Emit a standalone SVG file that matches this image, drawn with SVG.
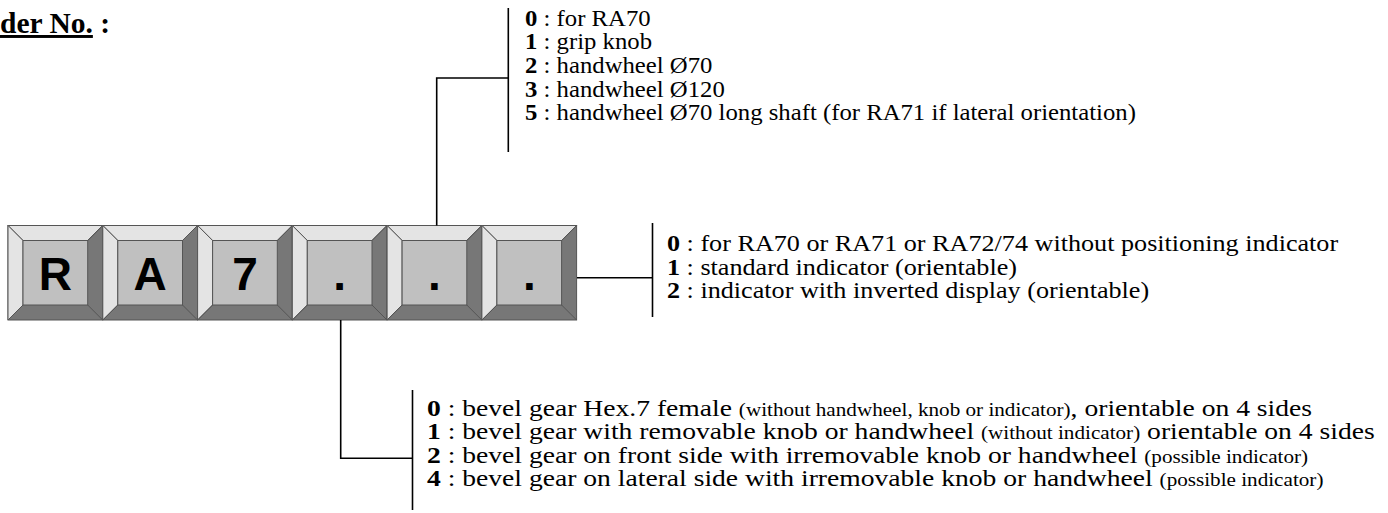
<svg xmlns="http://www.w3.org/2000/svg" xmlns:xlink="http://www.w3.org/1999/xlink" width="1388" height="513" viewBox="0 0 1388 513">
<style>
.t{font-family:"Liberation Serif","Times New Roman",serif;font-size:24px;fill:#000}
.b{font-weight:bold}
.s{font-size:18.4px}
.title{font-family:"Liberation Serif","Times New Roman",serif;font-size:29.5px;font-weight:bold;fill:#000}
.k{font-family:"Liberation Sans",Arial,sans-serif;font-size:46px;font-weight:bold;fill:#000;text-anchor:middle}
.ln{fill:none;stroke:#000;stroke-width:1.6}
.ks{stroke:#555;stroke-width:1;stroke-linejoin:miter}
</style>
<defs>
<g id="keyShape">
<rect class="ks" x="0" y="0" width="94.7" height="94.5" fill="#777777"/>
<polygon class="ks" points="0,0 94.7,0 79.7,15 15,15" fill="#e4e4e4"/>
<polygon class="ks" points="0,0 15,15 15,79.5 0,94.5" fill="#e4e4e4"/>
<rect class="ks" x="15" y="15" width="64.7" height="64.5" fill="#c0c0c0"/>
<line class="ks" x1="79.7" y1="79.5" x2="94.7" y2="94.5"/>
<line class="ks" x1="15" y1="79.5" x2="0" y2="94.5"/>
<line class="ks" x1="79.7" y1="15" x2="94.7" y2="0"/>
</g>
</defs>
<rect width="1388" height="513" fill="#fff"/>
<g id="title">
<text class="title" x="0" y="33"><tspan text-decoration="underline">der No.</tspan> :</text>
</g>
<g id="key-1" transform="translate(8,225.5)"><use xlink:href="#keyShape"/><text class="k" x="47.4" y="64">R</text></g>
<g id="key-2" transform="translate(102.8,225.5)"><use xlink:href="#keyShape"/><text class="k" x="47.4" y="64">A</text></g>
<g id="key-3" transform="translate(197.6,225.5)"><use xlink:href="#keyShape"/><text class="k" x="47.4" y="64">7</text></g>
<g id="key-4" transform="translate(292.3,225.5)"><use xlink:href="#keyShape"/><text class="k" x="47.4" y="64">.</text></g>
<g id="key-5" transform="translate(387.1,225.5)"><use xlink:href="#keyShape"/><text class="k" x="47.4" y="64">.</text></g>
<g id="key-6" transform="translate(481.9,225.5)"><use xlink:href="#keyShape"/><text class="k" x="47.4" y="64">.</text></g>
<g id="connectors">
<polyline class="ln" points="436.7,225.5 436.7,78 508.3,78"/>
<line class="ln" x1="508.3" y1="8" x2="508.3" y2="152"/>
<line class="ln" x1="577" y1="277.7" x2="652.5" y2="277.7"/>
<line class="ln" x1="652.5" y1="223" x2="652.5" y2="317"/>
<polyline class="ln" points="340.7,320 340.7,458.3 412.5,458.3"/>
<line class="ln" x1="412.5" y1="390" x2="412.5" y2="510"/>
</g>
<g id="options-handle">
<text class="t" transform="translate(525,25.5) scale(1.03,1)"><tspan class="b">0</tspan> : for RA70</text>
<text class="t" transform="translate(525,49.2) scale(1.03,1)"><tspan class="b">1</tspan> : grip knob</text>
<text class="t" transform="translate(525,72.9) scale(1.03,1)"><tspan class="b">2</tspan> : handwheel Ø70</text>
<text class="t" transform="translate(525,96.6) scale(1.03,1)"><tspan class="b">3</tspan> : handwheel Ø120</text>
<text class="t" transform="translate(525,120.3) scale(1.03,1)"><tspan class="b">5</tspan> : handwheel Ø70 long shaft (for RA71 if lateral orientation)</text>
</g>
<g id="options-indicator">
<text class="t" transform="translate(667,251) scale(1.09,1)"><tspan class="b">0</tspan> : for RA70 or RA71 or RA72/74 without positioning indicator</text>
<text class="t" transform="translate(667,274.5) scale(1.09,1)"><tspan class="b">1</tspan> : standard indicator (orientable)</text>
<text class="t" transform="translate(667,298) scale(1.09,1)"><tspan class="b">2</tspan> : indicator with inverted display (orientable)</text>
</g>
<g id="options-gear">
<text class="t" transform="translate(427,416) scale(1.15,1)"><tspan class="b">0</tspan> : bevel gear Hex.7 female <tspan class="s">(without handwheel, knob or indicator)</tspan>, orientable on 4 sides</text>
<text class="t" transform="translate(427,439.3) scale(1.15,1)"><tspan class="b">1</tspan> : bevel gear with removable knob or handwheel <tspan class="s">(without indicator)</tspan> orientable on 4 sides</text>
<text class="t" transform="translate(427,462.7) scale(1.15,1)"><tspan class="b">2</tspan> : bevel gear on front side with irremovable knob or handwheel <tspan class="s">(possible indicator)</tspan></text>
<text class="t" transform="translate(427,486) scale(1.15,1)"><tspan class="b">4</tspan> : bevel gear on lateral side with irremovable knob or handwheel <tspan class="s">(possible indicator)</tspan></text>
</g>
</svg>
